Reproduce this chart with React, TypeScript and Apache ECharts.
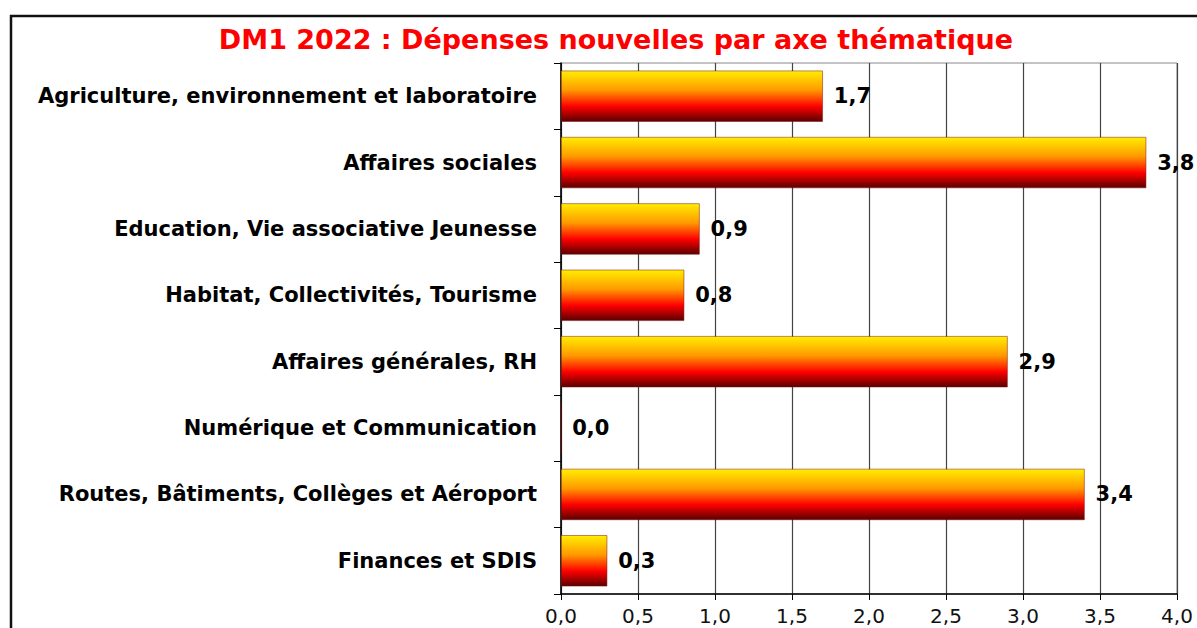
import React, { useEffect, useRef } from "react";
import * as echarts from "echarts";

const titleText = "DM1 2022 : Dépenses nouvelles par axe thématique";
const categories = [
  "Agriculture, environnement et laboratoire",
  "Affaires sociales",
  "Education, Vie associative Jeunesse",
  "Habitat, Collectivités, Tourisme",
  "Affaires générales, RH",
  "Numérique et Communication",
  "Routes, Bâtiments, Collèges et Aéroport",
  "Finances et SDIS",
];
const values = [1.7, 3.8, 0.9, 0.8, 2.9, 0.0, 3.4, 0.3];
const xMin = 0;
const xMax = 4;
const xStep = 0.5;

const fmt = (v: number) => Number(v).toFixed(1).replace(".", ",");
const FONT = "DejaVu Sans, Verdana, sans-serif";

export default function App() {
  const ref = useRef<HTMLDivElement>(null);
  useEffect(() => {
    if (!ref.current) return;
    const chart = echarts.init(ref.current, undefined, { renderer: "svg" });
    const grad = new echarts.graphic.LinearGradient(0, 0, 0, 1, [
      { offset: 0, color: "#FFEE00" },
      { offset: 0.38, color: "#FF9900" },
      { offset: 0.7, color: "#FF0000" },
      { offset: 1, color: "#5A0000" },
    ]);
    chart.setOption({
      animation: false,
      backgroundColor: "#ffffff",
      textStyle: { fontFamily: FONT },
      title: {
        text: titleText,
        left: 611,
        textAlign: "center",
        top: 21,
        textStyle: {
          color: "#FF0000",
          fontSize: 27,
          fontWeight: "bold",
          fontFamily: FONT,
        },
      },
      graphic: [
        {
          type: "rect",
          shape: { x: 11, y: 16, width: 1400, height: 800 },
          style: { fill: "none", stroke: "#111", lineWidth: 2.5 },
          silent: true,
        },
      ],
      grid: {
        left: 561,
        top: 63,
        width: 616,
        height: 531,
        show: true,
        borderColor: "#888",
        borderWidth: 1,
        containLabel: false,
      },
      xAxis: {
        type: "value",
        min: xMin,
        max: xMax,
        interval: xStep,
        axisLine: { show: true, lineStyle: { color: "#000", width: 1.5 } },
        axisTick: { show: true, length: 6, lineStyle: { color: "#000" } },
        splitLine: { show: true, lineStyle: { color: "#444", width: 1.2 } },
        axisLabel: {
          formatter: fmt,
          color: "#111",
          fontSize: 20,
          margin: 12,
          fontFamily: FONT,
        },
      },
      yAxis: {
        type: "category",
        data: categories,
        inverse: true,
        axisLine: { show: true, lineStyle: { color: "#000", width: 1.5 } },
        axisTick: { show: true, length: 7, lineStyle: { color: "#000" } },
        splitLine: { show: false },
        axisLabel: {
          color: "#000",
          fontSize: 21,
          fontWeight: "bold",
          margin: 24,
          fontFamily: FONT,
        },
      },
      series: [
        {
          type: "bar",
          data: values,
          barCategoryGap: "23%",
          itemStyle: { color: grad, borderColor: "#7a1010", borderWidth: 0.5 },
          label: {
            show: true,
            position: "right",
            distance: 11,
            formatter: (p: any) => fmt(p.value),
            color: "#000",
            fontSize: 21,
            fontWeight: "bold",
            fontFamily: FONT,
          },
        },
      ],
    });
    return () => chart.dispose();
  }, []);
  return (
    <div
      ref={ref}
      style={{ position: "absolute", left: 0, top: 0, width: 1197, height: 628 }}
    />
  );
}
